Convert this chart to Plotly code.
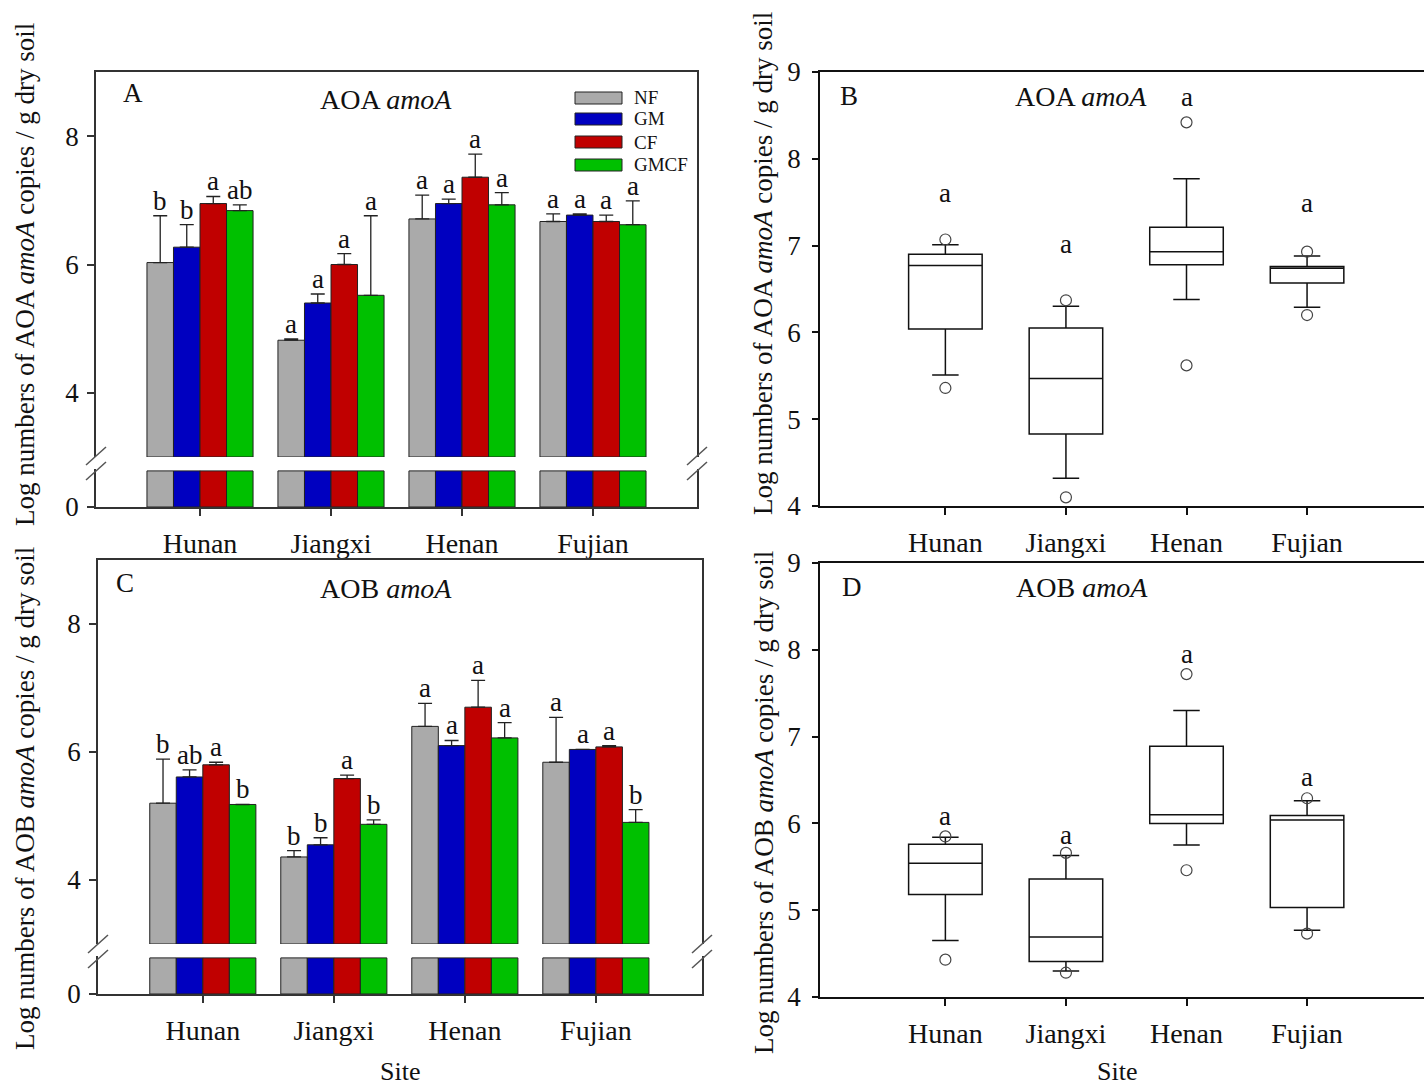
import plotly.graph_objects as go

W, H = 1424, 1089
FONT = "Liberation Serif"
INK = "#111111"
AXC = "#333333"

sites = ["Hunan", "Jiangxi", "Henan", "Fujian"]
treatments = ["NF", "GM", "CF", "GMCF"]
colors = {"NF": "#aaaaaa", "GM": "#0000c0", "CF": "#c00000", "GMCF": "#00c000"}

# ---------------- Panel A: AOA amoA (means, upper SE, letters) ----------------
aoa_NF = [6.03, 4.82, 6.71, 6.67]
aoa_GM = [6.27, 5.40, 6.95, 6.77]
aoa_CF = [6.95, 6.00, 7.36, 6.67]
aoa_GMCF = [6.84, 5.52, 6.93, 6.62]
aoa_NF_err = [0.73, 0.02, 0.37, 0.12]
aoa_GM_err = [0.35, 0.14, 0.07, 0.02]
aoa_CF_err = [0.11, 0.17, 0.36, 0.10]
aoa_GMCF_err = [0.09, 1.24, 0.19, 0.37]
aoa_NF_let = ["b", "a", "a", "a"]
aoa_GM_let = ["b", "a", "a", "a"]
aoa_CF_let = ["a", "a", "a", "a"]
aoa_GMCF_let = ["ab", "a", "a", "a"]

# ---------------- Panel C: AOB amoA ----------------
aob_NF = [5.20, 4.36, 6.40, 5.84]
aob_GM = [5.61, 4.55, 6.10, 6.04]
aob_CF = [5.80, 5.585, 6.70, 6.08]
aob_GMCF = [5.18, 4.87, 6.22, 4.90]
aob_NF_err = [0.69, 0.10, 0.36, 0.70]
aob_GM_err = [0.11, 0.11, 0.08, 0.0]
aob_CF_err = [0.04, 0.055, 0.42, 0.02]
aob_GMCF_err = [0.0, 0.07, 0.24, 0.20]
aob_NF_let = ["b", "b", "a", "a"]
aob_GM_let = ["ab", "b", "a", "a"]
aob_CF_let = ["a", "a", "a", "a"]
aob_GMCF_let = ["b", "b", "a", "b"]

# ---------------- Panel B: AOA box summaries ----------------
B_low = [5.51, 4.32, 6.38, 6.29]
B_q1 = [6.04, 4.83, 6.78, 6.57]
B_med = [6.77, 5.47, 6.93, 6.74]
B_q3 = [6.90, 6.05, 7.21, 6.76]
B_up = [7.01, 6.30, 7.77, 6.88]
B_out_site = ["Hunan", "Hunan", "Jiangxi", "Jiangxi", "Henan", "Henan", "Fujian", "Fujian"]
B_out_val = [7.07, 5.36, 6.37, 4.10, 8.42, 5.62, 6.93, 6.20]
B_let = ["a", "a", "a", "a"]
B_let_y = [7.61, 7.02, 8.71, 7.49]

# ---------------- Panel D: AOB box summaries ----------------
D_low = [4.65, 4.30, 5.75, 4.77]
D_q1 = [5.18, 4.41, 6.00, 5.03]
D_med = [5.54, 4.69, 6.10, 6.04]
D_q3 = [5.76, 5.36, 6.89, 6.09]
D_up = [5.84, 5.63, 7.30, 6.26]
D_out_site = ["Hunan", "Hunan", "Jiangxi", "Jiangxi", "Henan", "Henan", "Fujian", "Fujian"]
D_out_val = [5.85, 4.43, 5.66, 4.28, 7.72, 5.46, 6.29, 4.73]
D_let = ["a", "a", "a", "a"]
D_let_y = [6.08, 5.87, 7.95, 6.54]

BREAK = 3.0      # lower limit of upper bar segment
LOW_TOP = 1.0    # range of lower bar segment
LOW_CAP = 0.95   # visible height of bars in lower segment
BARGAP = 0.19


def px(xp):
    return xp / W


def py(yp):
    return 1 - yp / H


fig = go.Figure()
annotations = []
shapes = []

LETFONT = dict(family=FONT, size=27, color=INK)


def add_bar_panel(xu, yu, xl, yl, means, errs, letters):
    n = len(treatments)
    bw = (1 - BARGAP) / n
    for j, t in enumerate(treatments):
        vals = means[t]
        fig.add_trace(go.Bar(
            x=sites, y=[v - BREAK for v in vals], base=BREAK, name=t,
            marker=dict(color=colors[t], line=dict(color="#222222", width=1)),
            error_y=dict(type="data", array=errs[t], arrayminus=[0] * len(vals),
                         symmetric=False, color="#222222", thickness=1.3, width=7),
            xaxis=xu, yaxis=yu, offsetgroup=t, showlegend=False,
            customdata=vals, hovertemplate="%{x}: %{customdata}<extra>" + t + "</extra>"))
        fig.add_trace(go.Bar(
            x=sites, y=[min(v, LOW_CAP) for v in vals], name=t,
            marker=dict(color=colors[t], line=dict(color="#222222", width=1)),
            xaxis=xl, yaxis=yl, offsetgroup=t, showlegend=False, hoverinfo="skip"))
        for i, s in enumerate(sites):
            annotations.append(dict(
                x=i + (j - (n - 1) / 2) * bw, y=vals[i] + errs[t][i],
                xref=xu, yref=yu, text=letters[t][i], showarrow=False,
                yanchor="bottom", yshift=-2, font=LETFONT))


add_bar_panel("x", "y", "x2", "y2",
              {"NF": aoa_NF, "GM": aoa_GM, "CF": aoa_CF, "GMCF": aoa_GMCF},
              {"NF": aoa_NF_err, "GM": aoa_GM_err, "CF": aoa_CF_err, "GMCF": aoa_GMCF_err},
              {"NF": aoa_NF_let, "GM": aoa_GM_let, "CF": aoa_CF_let, "GMCF": aoa_GMCF_let})
add_bar_panel("x3", "y3", "x4", "y4",
              {"NF": aob_NF, "GM": aob_GM, "CF": aob_CF, "GMCF": aob_GMCF},
              {"NF": aob_NF_err, "GM": aob_GM_err, "CF": aob_CF_err, "GMCF": aob_GMCF_err},
              {"NF": aob_NF_let, "GM": aob_GM_let, "CF": aob_CF_let, "GMCF": aob_GMCF_let})


def add_box_panel(xa, ya, low, q1, med, q3, up, osite, oval, lets, lety):
    fig.add_trace(go.Box(
        x=sites, q1=q1, median=med, q3=q3, lowerfence=low, upperfence=up,
        width=0.61, whiskerwidth=0.36, fillcolor="rgba(0,0,0,0)",
        line=dict(color=INK, width=1.5), boxpoints=False,
        xaxis=xa, yaxis=ya, showlegend=False))
    fig.add_trace(go.Scatter(
        x=osite, y=oval, mode="markers",
        marker=dict(symbol="circle-open", size=11, color="#444444", line=dict(width=1.2)),
        xaxis=xa, yaxis=ya, showlegend=False))
    for i, s in enumerate(sites):
        annotations.append(dict(x=s, y=lety[i], xref=xa, yref=ya, text=lets[i],
                                showarrow=False, yanchor="middle", font=LETFONT))


add_box_panel("x5", "y5", B_low, B_q1, B_med, B_q3, B_up, B_out_site, B_out_val, B_let, B_let_y)
add_box_panel("x6", "y6", D_low, D_q1, D_med, D_q3, D_up, D_out_site, D_out_val, D_let, D_let_y)

tickfont = dict(family=FONT, size=27, color=INK)
catfont = dict(family=FONT, size=28, color=INK)
line_common = dict(showline=True, linecolor=AXC, linewidth=1.5, showgrid=False, zeroline=False)

layout = dict(
    width=W, height=H, margin=dict(l=0, r=0, t=0, b=0, autoexpand=False),
    paper_bgcolor="white", plot_bgcolor="white",
    barmode="group", bargap=BARGAP, bargroupgap=0,
    showlegend=False, autosize=False,
)

XSTAND = 4

# Panel A axes
xa_rng = [-0.794, 3.794]
layout["xaxis"] = dict(domain=[px(96), px(697)], anchor="y", side="top", range=xa_rng,
                       type="category", showticklabels=False, ticks="", **line_common)
layout["yaxis"] = dict(domain=[py(457), py(72)], anchor="x", range=[BREAK, 9],
                       tickvals=[4, 6, 8], ticks="outside", ticklen=7, tickcolor=AXC,
                       tickwidth=1.5, mirror=True, tickfont=tickfont, ticklabelstandoff=3,
                       **line_common)
layout["xaxis2"] = dict(domain=[px(96), px(697)], anchor="y2", range=xa_rng, matches="x",
                        type="category", ticks="outside", ticklen=7, tickcolor=AXC, tickwidth=1.5,
                        tickfont=catfont, ticklabelstandoff=XSTAND, **line_common)
layout["yaxis2"] = dict(domain=[py(507), py(469)], anchor="x2", range=[0, LOW_TOP],
                        tickvals=[0], ticktext=["0"], ticks="outside", ticklen=7, tickcolor=AXC,
                        tickwidth=1.5, mirror=True, tickfont=tickfont, ticklabelstandoff=3,
                        **line_common)

# Panel C axes
xc_rng = [-0.80, 3.81]
layout["xaxis3"] = dict(domain=[px(98), px(702)], anchor="y3", side="top", range=xc_rng,
                        type="category", showticklabels=False, ticks="", **line_common)
layout["yaxis3"] = dict(domain=[py(944), py(560)], anchor="x3", range=[BREAK, 9],
                        tickvals=[4, 6, 8], ticks="outside", ticklen=7, tickcolor=AXC,
                        tickwidth=1.5, mirror=True, tickfont=tickfont, ticklabelstandoff=3,
                        **line_common)
layout["xaxis4"] = dict(domain=[px(98), px(702)], anchor="y4", range=xc_rng, matches="x3",
                        type="category", ticks="outside", ticklen=7, tickcolor=AXC, tickwidth=1.5,
                        tickfont=catfont, ticklabelstandoff=XSTAND, **line_common)
layout["yaxis4"] = dict(domain=[py(994), py(956)], anchor="x4", range=[0, LOW_TOP],
                        tickvals=[0], ticktext=["0"], ticks="outside", ticklen=7, tickcolor=AXC,
                        tickwidth=1.5, mirror=True, tickfont=tickfont, ticklabelstandoff=3,
                        **line_common)

# Panels B and D axes
box_rng = [-1.04, 3.97]
for xa, ya, y0, y1 in (("xaxis5", "yaxis5", 506, 72), ("xaxis6", "yaxis6", 997, 563)):
    layout[xa] = dict(domain=[px(820), 1.0], anchor=ya.replace("axis", ""), range=box_rng,
                      type="category", ticks="outside", ticklen=7, tickcolor=INK, tickwidth=1.5,
                      mirror=True, tickfont=catfont, ticklabelstandoff=XSTAND,
                      showline=True, linecolor=INK, linewidth=1.5, showgrid=False, zeroline=False)
    layout[ya] = dict(domain=[py(y0), py(y1)], anchor=xa.replace("axis", ""), range=[4, 9],
                      dtick=1, ticks="outside", ticklen=6, tickcolor=INK, tickwidth=1.5,
                      tickfont=tickfont, ticklabelstandoff=6,
                      showline=True, linecolor=INK, linewidth=1.5, showgrid=False, zeroline=False)


def paper_text(xp, yp, text, size=28, xanchor="center", angle=0, yanchor="middle"):
    annotations.append(dict(x=px(xp), y=py(yp), xref="paper", yref="paper", text=text,
                            showarrow=False, xanchor=xanchor, yanchor=yanchor, textangle=angle,
                            font=dict(family=FONT, size=size, color=INK)))


# Panel labels and titles
paper_text(133, 93, "A", 27)
paper_text(386, 100, "AOA <i>amoA</i>", 28)
paper_text(125, 583, "C", 27)
paper_text(386, 588, "AOB <i>amoA</i>", 28)
paper_text(849, 96, "B", 27)
paper_text(1081, 96, "AOA <i>amoA</i>", 28)
paper_text(852, 587, "D", 27)
paper_text(1082, 587, "AOB <i>amoA</i>", 28)

# Axis titles
paper_text(25, 275, "Log numbers of AOA <i>amoA</i> copies / g dry soil", 27, angle=-90)
paper_text(25, 799, "Log numbers of AOB <i>amoA</i> copies / g dry soil", 27, angle=-90)
paper_text(763, 264, "Log numbers of AOA <i>amoA</i> copies / g dry soil", 27, angle=-90)
paper_text(764, 803, "Log numbers of AOB <i>amoA</i> copies / g dry soil", 27, angle=-90)
paper_text(400, 1088, "Site", 26, yanchor="bottom")
paper_text(1117, 1088, "Site", 26, yanchor="bottom")

# Custom legend (panel A)
leg_y = [98, 119, 142, 165]
for t, ly in zip(treatments, leg_y):
    shapes.append(dict(type="rect", xref="paper", yref="paper",
                       x0=px(575), x1=px(622), y0=py(ly + 6), y1=py(ly - 6),
                       fillcolor=colors[t], line=dict(color="#222222", width=1)))
    paper_text(632, ly, t, 19, xanchor="left")


# Axis break marks
def break_marks(xc, y_first, y_second):
    for yc in (y_first, y_second):
        shapes.append(dict(type="line", xref="paper", yref="paper",
                           x0=px(xc - 10), y0=py(yc + 9), x1=px(xc + 10), y1=py(yc - 9),
                           line=dict(color="#555555", width=1.5)))


break_marks(96, 456, 471)
break_marks(697, 456, 471)
break_marks(98, 944, 959)
break_marks(702, 944, 959)

layout["annotations"] = annotations
layout["shapes"] = shapes
fig.update_layout(**layout)
fig.write_html(
    "out.html",
    config={"responsive": False, "displayModeBar": False},
    post_script="document.body.style.margin='0';document.body.style.overflow='hidden';",
)
